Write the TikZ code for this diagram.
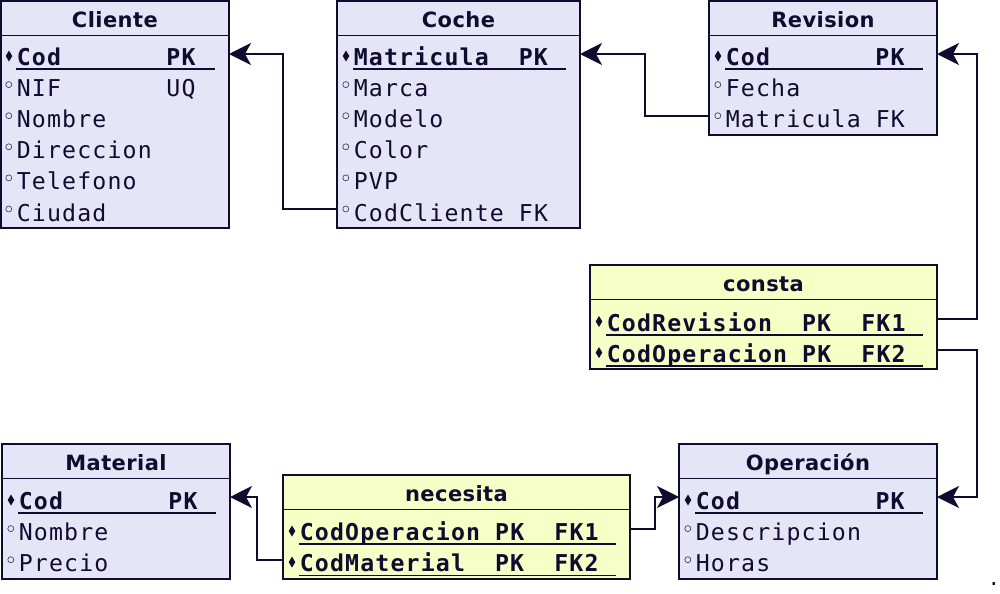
\documentclass[tikz,border=0pt]{standalone}
\usepackage{fontspec}
\usetikzlibrary{arrows.meta,fit}
\newfontfamily\fieldfont{DejaVu Sans Mono}[LetterSpace=5]
\newfontfamily\plainmono{DejaVu Sans Mono}
\newfontfamily\headfont{DejaVu Sans}[LetterSpace=2]
\definecolor{entfill}{RGB}{229,229,248}
\definecolor{relfill}{RGB}{246,255,198}
\definecolor{ink}{RGB}{16,12,48}
\newcommand\msp[1]{\hskip#1\dimexpr11.3pt\relax\relax}
\tikzset{
 box/.style={draw=ink, line width=1.1pt, inner sep=0pt},
 divline/.style={draw=ink, line width=1.1pt},
 titletxt/.style={anchor=base, inner sep=0pt, font=\headfont\bfseries\fontsize{15.75}{18}\selectfont, text=ink},
 fieldtxt/.style={anchor=base west, inner sep=0pt, font=\fieldfont\fontsize{17.4}{20}\selectfont, text=ink},
 pktxt/.style={anchor=base west, inner sep=0pt, font=\fieldfont\bfseries\fontsize{17.4}{20}\selectfont, text=ink},
 uline/.style={draw=ink, line width=1.3pt},
 conn/.style={draw=ink, line width=1.5pt, -{Stealth[length=16.5pt,width=16.5pt,inset=4.5pt]}},
}
\newcommand\entity[7]{%
 \node[box, fill=#6, fit={(#2,#3)(#4,#5)}] (#1) {};
 \draw[divline] (#2,#3+34.5) -- (#4,#3+34.5);
 \node[titletxt] (#1-title) at ({(#2+#4)/2},#3+26.7) {#7};
}
\newcommand\pkf[5]{%
 \fill[ink] (#2+9,#4-15) -- (#2+12.3,#4-9.5) -- (#2+9,#4-4) -- (#2+5.7,#4-9.5) -- cycle;
 \node[pktxt] (#1) at (#2+16.5,#4) {#5};
 \draw[uline] (#2+16,#4+3.8) -- (#3-14,#4+3.8);
}
\newcommand\atf[4]{%
 \draw[ink!80, line width=0.5pt] (#2+8.8,#3-12) circle (3);
 \node[fieldtxt] (#1) at (#2+16.5,#3) {#4};
}
\begin{document}
\begin{tikzpicture}[x=0.75pt,y=-0.75pt]
\useasboundingbox (0,0) rectangle (1000,593);
% Cliente
\entity{cliente}{0.8}{0.8}{229}{228}{entfill}{Cliente}
\pkf{cli-cod}{0}{229}{65.5}{Cod\msp{7}PK}
\atf{cli-nif}{0}{96.6}{NIF\msp{7}UQ}
\atf{cli-nom}{0}{127.7}{Nombre}
\atf{cli-dir}{0}{158.8}{Direccion}
\atf{cli-tel}{0}{189.9}{Telefono}
\atf{cli-ciu}{0}{221}{Ciudad}
% Coche
\entity{coche}{337}{0.8}{580}{228}{entfill}{Coche}
\pkf{coc-mat}{337}{580}{65.5}{Matricula\msp{2}PK}
\atf{coc-mar}{337}{96.6}{Marca}
\atf{coc-mod}{337}{127.7}{Modelo}
\atf{coc-col}{337}{158.8}{Color}
\atf{coc-pvp}{337}{189.9}{PVP}
\atf{coc-cli}{337}{221}{CodCliente\msp{1}FK}
% Revision
\entity{revision}{709}{0.8}{937}{135}{entfill}{Revision}
\pkf{rev-cod}{709}{937}{65.5}{Cod\msp{7}PK}
\atf{rev-fec}{709}{96.6}{Fecha}
\atf{rev-mat}{709}{127.7}{Matricula\msp{1}FK}
% consta
\entity{consta}{590}{265}{937}{369}{relfill}{consta}
\pkf{con-rev}{590}{937}{331}{CodRevision\msp{2}PK\msp{2}FK1}
\pkf{con-ope}{590}{937}{362.1}{CodOperacion\msp{1}PK\msp{2}FK2}
% Material
\entity{material}{2}{444}{230}{579}{entfill}{Material}
\pkf{mat-cod}{2}{230}{509.5}{Cod\msp{7}PK}
\atf{mat-nom}{2}{540.6}{Nombre}
\atf{mat-pre}{2}{571.7}{Precio}
% necesita
\entity{necesita}{283}{475}{630}{579}{relfill}{necesita}
\pkf{nec-ope}{283}{630}{540.5}{CodOperacion\msp{1}PK\msp{2}FK1}
\pkf{nec-mat}{283}{630}{571.6}{CodMaterial\msp{2}PK\msp{2}FK2}
% Operacion
\entity{operacion}{679}{444}{937}{579}{entfill}{Operación}
\pkf{ope-cod}{679}{937}{509.5}{Cod\msp{9}PK}
\atf{ope-des}{679}{540.6}{Descripcion}
\atf{ope-hor}{679}{571.7}{Horas}
% connector end points
\coordinate (coche-out) at (337,209);
\coordinate (cliente-in) at (229,54);
\coordinate (rev-out) at (709,116);
\coordinate (coche-in) at (580,54);
\coordinate (con-out1) at (937,319);
\coordinate (rev-in) at (937,54);
\coordinate (con-out2) at (937,350);
\coordinate (ope-in-r) at (937,497);
\coordinate (nec-out1) at (630,529);
\coordinate (ope-in-l) at (679,497);
\coordinate (nec-out2) at (283,560);
\coordinate (mat-in) at (230,497);
\draw[conn] (coche-out) -- ++(-54,0) |- (cliente-in);
\draw[conn] (rev-out) -- ++(-64,0) |- (coche-in);
\draw[conn] (con-out1) -- ++(40,0) |- (rev-in);
\draw[conn] (con-out2) -- ++(40,0) |- (ope-in-r);
\draw[conn] (nec-out1) -- ++(25,0) |- (ope-in-l);
\draw[conn] (nec-out2) -- ++(-26,0) |- (mat-in);
\node[anchor=base, inner sep=0pt, font=\plainmono\fontsize{15}{16}\selectfont, text=ink] (dot) at (994,585) {.};
\end{tikzpicture}
\end{document}
